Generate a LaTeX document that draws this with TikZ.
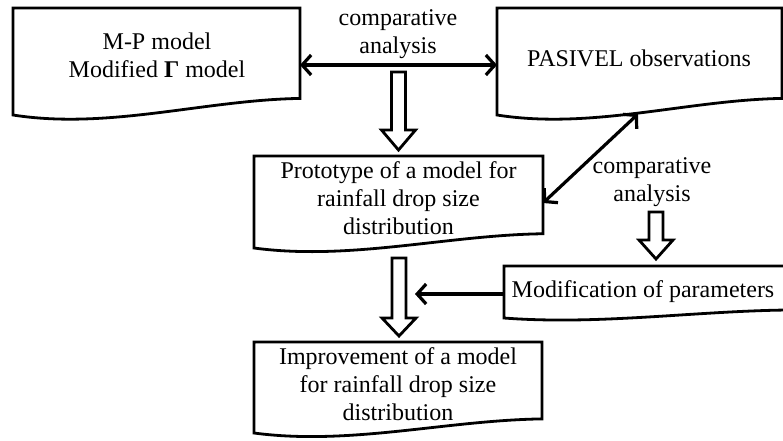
\documentclass[tikz,border=0pt]{standalone}
\usepackage{fontspec}
\setmainfont{Liberation Serif}
\usetikzlibrary{arrows.meta}
\tikzset{
  boxline/.style={line width=2.8pt, line join=miter},
  tip/.tip={Straight Barb[length=9pt,width=20pt]},
  conn2/.style={line width=3.2pt, tip-tip},
  conn1/.style={line width=3.2pt, -tip},
  lbl/.style={font=\fontsize{24}{28}\selectfont, align=center, inner sep=0pt},
  hollow/.style={line width=2.8pt, fill=white, line join=miter},
}
% document shape: x0, y0 (top), x1, yB (bottom-left)
\newcommand\docbox[4]{%
  \draw[boxline] (#1,#4) -- (#1,#2) -- (#3,#2) -- (#3,{#4-0.155*(#4-#2)})
    .. controls ({#1+2*(#3-#1)/3},{#4-0.14*(#4-#2)}) and ({#1+(#3-#1)/3},{#4+0.14*(#4-#2)}) .. (#1,#4) -- cycle;}
% hollow block arrow: cx, ytop, ybase, ytip
\newcommand\blockarrow[4]{%
  \draw[hollow] ({#1-7},#2) -- ({#1+7},#2) -- ({#1+7},#3) -- ({#1+17},#3) -- (#1,#4)
    -- ({#1-17},#3) -- ({#1-7},#3) -- cycle;}
\begin{document}
\begin{tikzpicture}[x=1pt,y=-1pt]
\useasboundingbox (0,0) rectangle (783,440);
% boxes
\docbox{13}{8}{300}{115}
\docbox{497}{8}{782}{115}
\docbox{254}{156}{543}{248}
\docbox{504}{266}{792}{318}
\docbox{254}{342}{542}{433}
% texts
\node[lbl] (mp) at (157,55.5) {M-P model\\Modified {\bfseries Γ} model};
\node[lbl] (pas) at (639,58) {PASIVEL observations};
\node[lbl] (proto) at (398.5,198) {Prototype of a model for\\rainfall drop size\\distribution};
\node[lbl] (mod) at (643,292) {Modification of parameters};
\node[lbl] (imp) at (398,384) {Improvement of a model\\for rainfall drop size\\distribution};
\node[lbl] (ca1) at (398,34) {comparative\\analysis};
\node[lbl] (ca2) at (652,182) {comparative\\analysis};
% connector end points
\coordinate (mpE) at (300,65);
\coordinate (pasW) at (497,65);
\coordinate (pasS) at (638,114);
\coordinate (protoE) at (543,203);
\coordinate (modW) at (504,294);
\coordinate (shaftE) at (415,294);
\draw[conn2] (mpE) -- (pasW);
\draw[conn2] (protoE) -- (pasS);
\draw[conn1] (modW) -- (shaftE);
% block arrows
\blockarrow{398.5}{72}{130}{150}
\blockarrow{399}{258}{318}{336}
\blockarrow{656}{212}{240}{259}
\end{tikzpicture}
\end{document}
